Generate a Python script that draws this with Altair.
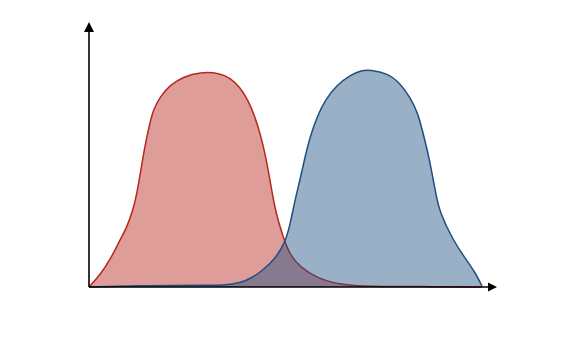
import altair as alt
import pandas as pd

# Red series
red_x = [0, 11, 21, 31, 38, 44, 48, 51, 54, 57, 60, 64, 71, 81, 94, 111, 131, 141, 151, 159, 166, 171, 176, 181, 186, 194, 201, 211, 228, 251, 281, 331, 393]
red_y = [0, 12, 27, 47, 60, 77, 94, 112, 130, 146, 160, 177, 190, 202, 210, 215, 214, 209, 200, 187, 170, 154, 134, 107, 77, 50, 32, 20, 9, 2, 0.5, 0.5, 0]

# Blue series
blue_x = [0, 61, 111, 136, 151, 163, 174, 186, 196, 201, 206, 211, 216, 221, 228, 236, 248, 261, 274, 281, 298, 311, 321, 329, 334, 339, 343, 347, 351, 364, 376, 386, 393]
blue_y = [0, 1.5, 2, 1.5, 4, 9, 17, 28, 44, 62, 87, 107, 130, 150, 170, 187, 202, 212, 217, 217, 214, 204, 190, 174, 154, 134, 114, 92, 74, 47, 29, 15, 1]

red = pd.DataFrame({"x": red_x, "y": red_y})
blue = pd.DataFrame({"x": blue_x, "y": blue_y})

xs = alt.Scale(domain=[0, 408], nice=False, zero=False)
ys = alt.Scale(domain=[0, 265], nice=False, zero=False)
X = alt.X("x:Q", scale=xs, axis=None)
Y = alt.Y("y:Q", scale=ys, axis=None)

RED_STROKE = "#b8261c"
BLUE_STROKE = "#1e4f80"
INTERP = "basis"

red_area = alt.Chart(red).mark_area(interpolate=INTERP, color=RED_STROKE, fillOpacity=0.45).encode(x=X, y=Y)
red_line = alt.Chart(red).mark_line(interpolate=INTERP, color=RED_STROKE, strokeWidth=1.5).encode(x=X, y=Y)
blue_area = alt.Chart(blue).mark_area(interpolate=INTERP, color=BLUE_STROKE, fillOpacity=0.45).encode(x=X, y=Y)
blue_line = alt.Chart(blue).mark_line(interpolate=INTERP, color=BLUE_STROKE, strokeWidth=1.5).encode(x=X, y=Y)

# axes with arrows
vaxis = pd.DataFrame({"x": [0], "y": [0], "y2": [258]})
haxis = pd.DataFrame({"x": [0], "x2": [400], "y": [0]})
v_line = alt.Chart(vaxis).mark_rule(color="black", strokeWidth=1.6).encode(
    x=alt.X("x:Q", scale=xs, axis=None), y=alt.Y("y:Q", scale=ys, axis=None), y2="y2:Q")
h_line = alt.Chart(haxis).mark_rule(color="black", strokeWidth=1.6).encode(
    x=alt.X("x:Q", scale=xs, axis=None), x2="x2:Q", y=alt.Y("y:Q", scale=ys, axis=None))

vhead = pd.DataFrame({"x": [0], "y": [265]})
hhead = pd.DataFrame({"x": [408], "y": [0]})
v_arrow = alt.Chart(vhead).mark_point(shape="M0,0L1,2L-1,2Z", size=100, filled=True, color="black", opacity=1).encode(
    x=alt.X("x:Q", scale=xs, axis=None), y=alt.Y("y:Q", scale=ys, axis=None))
h_arrow = alt.Chart(hhead).mark_point(shape="M0,0L-2,-1L-2,1Z", size=81, filled=True, color="black", opacity=1).encode(
    x=alt.X("x:Q", scale=xs, axis=None), y=alt.Y("y:Q", scale=ys, axis=None))

chart = alt.layer(red_area, red_line, blue_area, blue_line, v_line, h_line, v_arrow, h_arrow).properties(
    width=408, height=265,
    autosize="none",
    background="white",
    padding={"left": 89, "top": 22, "right": 74, "bottom": 50},
).configure_view(strokeWidth=0)

chart.save("out.html", embed_options={"renderer": "svg", "actions": False})
